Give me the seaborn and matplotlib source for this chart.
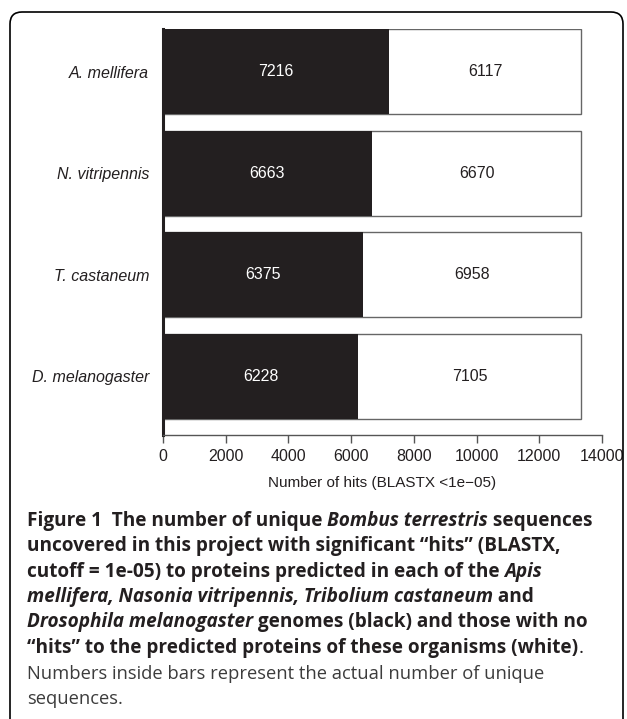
import matplotlib
matplotlib.use("Agg")
import matplotlib.pyplot as plt
import seaborn as sns
import pandas as pd
from matplotlib.patches import FancyBboxPatch
from matplotlib.transforms import IdentityTransform

# data
species = ["A. mellifera", "N. vitripennis", "T. castaneum", "D. melanogaster"]
hits = [7216, 6663, 6375, 6228]
no_hits = [6117, 6670, 6958, 7105]
xticks = [0, 2000, 4000, 6000, 8000, 10000, 12000, 14000]

W, H = 627, 719
INK = "#231f20"

sns.set_theme(style="white")
plt.rcParams["font.family"] = ["Liberation Sans", "DejaVu Sans"]

df = pd.DataFrame({"species": species, "hits": hits, "no_hits": no_hits})
df["total"] = df["hits"] + df["no_hits"]

fig = plt.figure(figsize=(W / 100, H / 100), dpi=100)
ax = fig.add_axes([163 / W, 1 - 435 / H, (602 - 163) / W, (435 - 29) / H])

# white (total) bars underneath, black (hits) bars on top
sns.barplot(data=df, x="total", y="species", orient="h", color="white",
            edgecolor="#666666", linewidth=1.0, width=0.84, saturation=1, ax=ax)
sns.barplot(data=df, x="hits", y="species", orient="h", color=INK,
            edgecolor=INK, linewidth=0, width=0.84, saturation=1, ax=ax)

for i, (h, n) in enumerate(zip(hits, no_hits)):
    ax.text(h / 2, i, str(h), color="white", ha="center", va="center", fontsize=11.5)
    ax.text(h + n / 2, i, str(n), color=INK, ha="center", va="center", fontsize=11.5)

ax.set_xlim(0, 14000)
ax.set_ylim(3.577, -0.42)
ax.set_xticks(xticks)
ax.set_xticklabels([str(t) for t in xticks], fontsize=11.5, color=INK)
ax.set_yticks(range(len(species)))
ax.set_yticklabels(species, fontsize=11.5, style="italic", color=INK)
ax.set_ylabel("")
ax.set_xlabel("Number of hits (BLASTX <1e\u221205)", fontsize=11, color=INK, labelpad=9)

for s in ["top", "right"]:
    ax.spines[s].set_visible(False)
ax.spines["left"].set_color(INK)
ax.spines["left"].set_linewidth(2.2)
ax.spines["bottom"].set_color("#555555")
ax.spines["bottom"].set_linewidth(1.0)
ax.tick_params(axis="x", bottom=True, length=6, width=1.0, color="#555555", direction="out", pad=4)
ax.tick_params(axis="y", left=False, length=0, pad=10)

# rounded outer frame
frame = FancyBboxPatch((10, -30), 613, H - 12 + 30, boxstyle="round,pad=0,rounding_size=12",
                       transform=IdentityTransform(), fill=False, edgecolor="black",
                       linewidth=1.2, clip_on=False)
fig.patches.append(frame)

# caption with mixed bold / italic runs
cap_font = ["Open Sans", "DejaVu Sans"]
B = dict(weight="bold", style="normal", color=INK, fontsize=13.7)
BI = dict(weight="bold", style="italic", color=INK, fontsize=13.7)
R = dict(weight="normal", style="normal", color=INK, fontsize=13.7)
G = dict(weight="normal", style="normal", color="#3c3c3c", fontsize=13.2)

caption = [
    [("Figure 1", B), ("  The number of unique ", B), ("Bombus terrestris", BI), (" sequences", B)],
    [("uncovered in this project with significant \u201chits\u201d (BLASTX,", B)],
    [("cutoff = 1e-05) to proteins predicted in each of the ", B), ("Apis", BI)],
    [("mellifera, Nasonia vitripennis, Tribolium castaneum", BI), (" and", B)],
    [("Drosophila melanogaster", BI), (" genomes (black) and those with no", B)],
    [("\u201chits\u201d to the predicted proteins of these organisms (white)", B), (".", R)],
    [("Numbers inside bars represent the actual number of unique", G)],
    [("sequences.", G)],
]
baselines = [526, 551, 577, 602, 627, 653, 679, 704]

renderer = fig.canvas.get_renderer()


def text_width(s, props):
    t = fig.text(0, 0, "x" + s + "x", family=cap_font, **props)
    t2 = fig.text(0, 0, "xx", family=cap_font, **props)
    w = t.get_window_extent(renderer).width - t2.get_window_extent(renderer).width
    t.remove()
    t2.remove()
    return w


for line, yb in zip(caption, baselines):
    x = 27.0
    for s, props in line:
        fig.text(x / W, 1 - yb / H, s, family=cap_font, va="baseline", ha="left", **props)
        x += text_width(s, props)

fig.savefig("out.png", dpi=100)
